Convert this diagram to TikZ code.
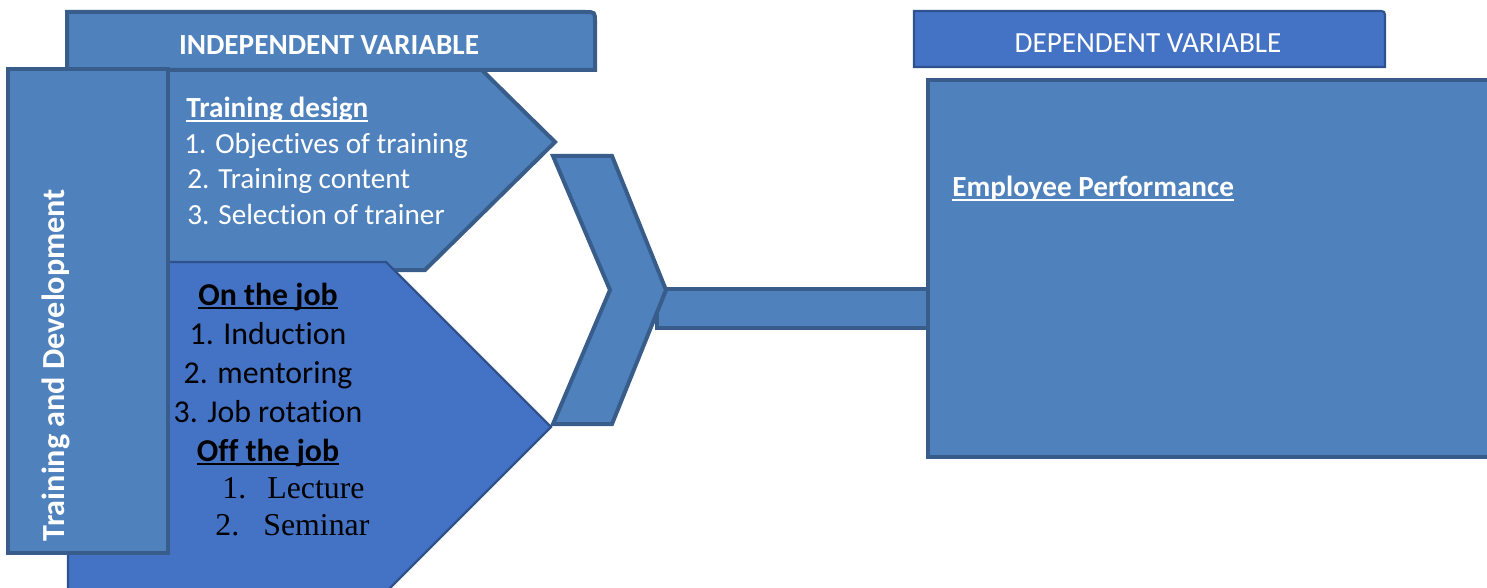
\documentclass[tikz,border=0pt]{standalone}
\usepackage{fontspec}
\setmainfont{Carlito}[Ligatures=NoCommon]
\newfontfamily\timesfont{Liberation Serif}
\definecolor{fillA}{HTML}{4F81BD}
\definecolor{lineA}{HTML}{385D8A}
\definecolor{fillB}{HTML}{4472C4}
\definecolor{lineB}{HTML}{2F528F}
\newcommand\ulx[1]{\setbox0\hbox{#1}\rlap{\rule[-2pt]{\wd0}{1.1pt}}\box0}
\tikzset{
  shapeA/.style={fill=fillA, draw=lineA, line width=2pt, line join=miter},
  shapeB/.style={fill=fillB, draw=lineB, line width=1.1pt, line join=miter},
  txt/.style={inner sep=0pt, font=\fontsize{14.6}{17}\selectfont},
  txtbig/.style={inner sep=0pt, font=\fontsize{15.9}{19}\selectfont},
}
\begin{document}
\begin{tikzpicture}[x=0.5pt,y=-0.5pt]
\useasboundingbox (0,0) rectangle (1487,588);
\clip (0,0) rectangle (1487,588);
% training design pentagon
\draw[shapeA] (68,14) -- (425,14) -- (555,142) -- (425,270) -- (68,270) -- cycle;
% independent variable header
\draw[shapeA] (67,70) -- (67,12) -- (585,12) .. controls (595,12) .. (595,22) -- (595,70) -- cycle;
% on the job pentagon
\draw[shapeB] (68,262) -- (386,262) -- (551,427) -- (386,592) -- (68,592) -- cycle;
% training and development box
\draw[shapeA] (8,69) rectangle (168,553);
% bar (behind the chevron)
\draw[shapeA] (657,289) rectangle (928,328);
% chevron
\draw[shapeA] (553,156) -- (612,156) -- (666,290) -- (612,424) -- (553,424) -- (610,290) -- cycle;
% employee performance box
\draw[shapeA] (928,80) rectangle (1500,457);
% dependent variable header
\draw[shapeB] (914,67) -- (914,11) -- (1377,11) .. controls (1385,11) .. (1385,19) -- (1385,67) -- cycle;

% texts
\node[txt, text=white, anchor=base, font=\fontsize{14.6}{17}\selectfont\bfseries] (iv) at (329,55) {INDEPENDENT VARIABLE};
\node[txt, text=white, anchor=base] (dv) at (1148,53) {DEPENDENT VARIABLE};
\node[txt, text=white, anchor=base, rotate=90, font=\fontsize{16.1}{19}\selectfont\bfseries] (td) at (64,365) {Training and Development};

\node[txt, text=white, anchor=base west, font=\fontsize{14.6}{17}\selectfont\bfseries] (tdh) at (186,118) {\ulx{Training design}};
\node[txt, text=white, anchor=base west] (td1) at (184,154) {1. Objectives of training};
\node[txt, text=white, anchor=base west] (td2) at (187,189) {2. Training content};
\node[txt, text=white, anchor=base west] (td3) at (187,225) {3. Selection of trainer};

\node[txt, text=white, anchor=base west, font=\fontsize{14.6}{17}\selectfont\bfseries] (ep) at (952,197) {\ulx{Employee Performance}};

\node[txtbig, anchor=base, font=\fontsize{15.9}{19}\selectfont\bfseries] (onj) at (268,305) {\ulx{On the job}};
\node[txtbig, anchor=base] (onj1) at (268,344) {1. Induction};
\node[txtbig, anchor=base] (onj2) at (268,383) {2. mentoring};
\node[txtbig, anchor=base] (onj3) at (268,422) {3. Job rotation};
\node[txtbig, anchor=base, font=\fontsize{15.9}{19}\selectfont\bfseries] (offj) at (268,461) {\ulx{Off the job}};
\node[txtbig, anchor=base west, font=\fontsize{15.9}{19}\selectfont\timesfont] (offj1) at (222,498) {\makebox[22.5pt][l]{1.}Lecture};
\node[txtbig, anchor=base west, font=\fontsize{15.9}{19}\selectfont\timesfont] (offj2) at (215,535) {\makebox[24pt][l]{2.}Seminar};
\end{tikzpicture}
\end{document}
